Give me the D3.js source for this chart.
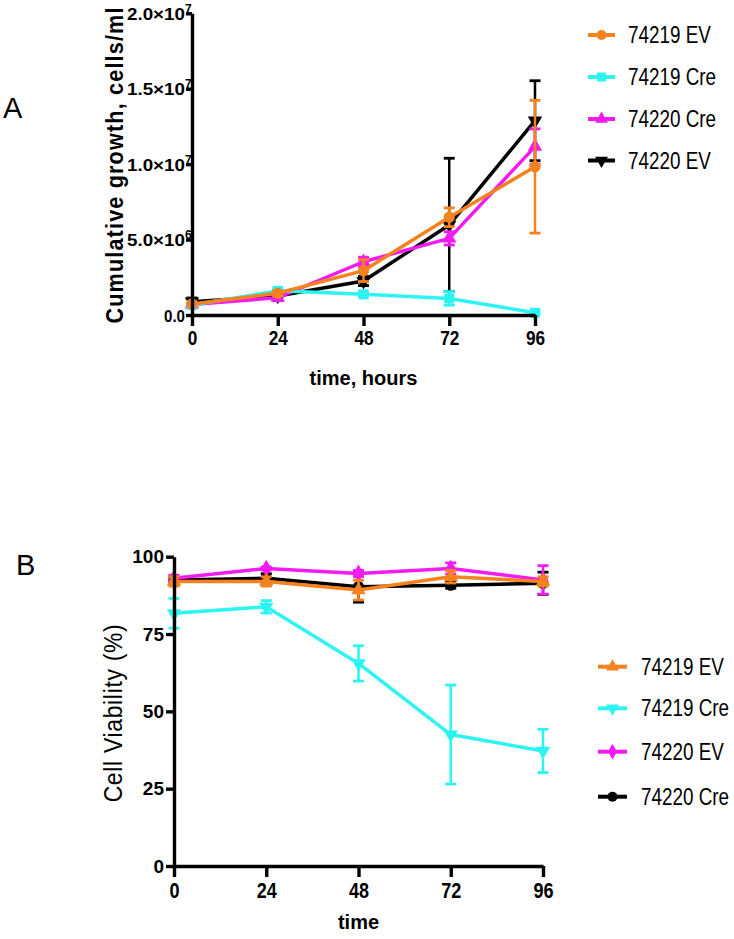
<!DOCTYPE html>
<html><head><meta charset="utf-8">
<script src="https://cdn.jsdelivr.net/npm/d3@7"></script>
<style>
html,body{margin:0;padding:0;background:#fff;}
svg{display:block;}
</style></head>
<body>
<svg id="chart" width="734" height="939"></svg>
<script>
// ---------- DATA ----------
const times = [0, 24, 48, 72, 96];
const xTickLabels = ["0", "24", "48", "72", "96"];

// Panel A: cumulative growth (cells/ml)
const namesA = ["74219 EV", "74219 Cre", "74220 Cre", "74220 EV"];
const growth_74219EV = [0.73e6, 1.44e6, 2.94e6, 6.48e6, 9.83e6];
const growth_74219EV_sd = [0.08e6, 0.15e6, 0.72e6, 0.62e6, 4.4e6];
const growth_74219Cre = [0.66e6, 1.6e6, 1.37e6, 1.1e6, 0.15e6];
const growth_74219Cre_sd = [0.08e6, 0.15e6, 0.15e6, 0.45e6, 0.1e6];
const growth_74220Cre = [0.7e6, 1.15e6, 3.53e6, 5.08e6, 11.16e6];
const growth_74220Cre_sd = [0.05e6, 0.2e6, 0.3e6, 0.44e6, 1.18e6];
const growth_74220EV = [0.88e6, 1.26e6, 2.25e6, 5.97e6, 12.88e6];
const growth_74220EV_sd = [0.25e6, 0.1e6, 0.3e6, 4.42e6, 2.65e6];
const yTicksA = [0, 5e6, 1e7, 1.5e7, 2e7];
const yTickBaseA = ["0.0", "5.0×10", "1.0×10", "1.5×10", "2.0×10"];
const yTickExpA = ["", "6", "7", "7", "7"];

// Panel B: cell viability (%)
const namesB = ["74219 EV", "74219 Cre", "74220 EV", "74220 Cre"];
const viab_74219EV = [92, 92, 89.2, 93.5, 92];
const viab_74219EV_sd = [1.5, 1.5, 3.2, 2, 1.5];
const viab_74219Cre = [81.7, 83.8, 65.5, 42.5, 37.2];
const viab_74219Cre_sd = [4.8, 2, 5.7, 16, 7];
const viab_74220EV = [93, 96.2, 94.6, 96.2, 92.5];
const viab_74220EV_sd = [1, 0.5, 1, 1.8, 4.6];
const viab_74220Cre = [92.5, 93, 90.3, 90.8, 91.4];
const viab_74220Cre_sd = [1, 1.5, 5, 1, 3.6];
const yTicksB = [0, 25, 50, 75, 100];

// ---------- STYLE ----------
const C_ORANGE = "#f5821f", C_CYAN = "#2ef3f3", C_MAGENTA = "#f21cf2", C_BLACK = "#000";
const svg = d3.select("#chart");
const FONT = "'Liberation Sans', Arial, sans-serif";

function mk(values, sd, name, color, symbol) {
  return { name, color, symbol, pts: times.map((t, i) => ({ t, v: values[i], sd: sd[i] })) };
}

function drawSeries(g, x, y, s, capW) {
  const sg = g.append("g");
  s.pts.forEach(p => {
    const y1 = y(p.v + p.sd), y0 = y(Math.max(0, p.v - p.sd));
    sg.append("line").attr("x1", x(p.t)).attr("x2", x(p.t)).attr("y1", y1).attr("y2", y0)
      .attr("stroke", s.color).attr("stroke-width", 2.5);
    [y1, y0].forEach(yy => sg.append("line").attr("x1", x(p.t) - capW / 2).attr("x2", x(p.t) + capW / 2)
      .attr("y1", yy).attr("y2", yy).attr("stroke", s.color).attr("stroke-width", 2.8));
  });
  sg.append("path").datum(s.pts)
    .attr("d", d3.line().x(p => x(p.t)).y(p => y(p.v)))
    .attr("fill", "none").attr("stroke", s.color).attr("stroke-width", 3.5).attr("stroke-linejoin", "round");
  sg.selectAll("path.m").data(s.pts).enter().append("path").attr("class", "m")
    .attr("transform", p => `translate(${x(p.t)},${y(p.v)})${s.symbol.rot || ""}`)
    .attr("d", d3.symbol().type(s.symbol.type).size(s.symbol.size))
    .attr("fill", s.color);
}

function styleAxis(g) {
  g.select(".domain").attr("stroke", "#000").attr("stroke-width", 3.4);
  g.selectAll(".tick line").attr("stroke", "#000").attr("stroke-width", 3.4);
}

function legend(items, x0, x1, ys, tx) {
  items.forEach((s, i) => {
    const g = svg.append("g");
    g.append("line").attr("x1", x0).attr("x2", x1).attr("y1", ys[i]).attr("y2", ys[i])
      .attr("stroke", s.color).attr("stroke-width", 4);
    g.append("path").attr("transform", `translate(${(x0 + x1) / 2},${ys[i]})${s.symbol.rot || ""}`)
      .attr("d", d3.symbol().type(s.symbol.type).size(s.symbol.size * 0.8)).attr("fill", s.color);
    g.append("text").attr("transform", `translate(${tx},${ys[i] + 8}) scale(0.82,1)`).text(s.name)
      .attr("font-family", FONT).attr("font-size", 23).attr("fill", "#000");
  });
}

const SYM_CIRCLE = { type: d3.symbolCircle, size: 100 };
const SYM_SQUARE = { type: d3.symbolSquare, size: 100 };
const SYM_TRI_UP = { type: d3.symbolTriangle, size: 90 };
const SYM_TRI_DOWN = { type: d3.symbolTriangle, size: 90, rot: " rotate(180)" };
const SYM_DIAMOND = { type: d3.symbolDiamond, size: 90 };

function styleXTicks(ax, size) {
  ax.selectAll(".tick text").attr("font-family", FONT).attr("font-weight", "bold")
    .attr("font-size", size).attr("fill", "#000").attr("transform", "scale(0.82,1)");
}

// ---------- PANEL A ----------
{
  const xA = d3.scaleLinear().domain([0, 96]).range([192, 535]);
  const yA = d3.scaleLinear().domain([0, 2e7]).range([315, 13.3]);
  const sA = [
    mk(growth_74219EV, growth_74219EV_sd, namesA[0], C_ORANGE, SYM_CIRCLE),
    mk(growth_74219Cre, growth_74219Cre_sd, namesA[1], C_CYAN, SYM_SQUARE),
    mk(growth_74220Cre, growth_74220Cre_sd, namesA[2], C_MAGENTA, SYM_TRI_UP),
    mk(growth_74220EV, growth_74220EV_sd, namesA[3], C_BLACK, SYM_TRI_DOWN)
  ];
  const g = svg.append("g");
  [3, 2, 1, 0].forEach(i => drawSeries(g, xA, yA, sA[i], 11));

  const ax = svg.append("g").attr("transform", "translate(0,315)")
    .call(d3.axisBottom(xA).tickValues(times).tickFormat((d, i) => xTickLabels[i]).tickSize(11).tickSizeOuter(0).tickPadding(4));
  styleAxis(ax);
  styleXTicks(ax, 21);

  const ay = svg.append("g").attr("transform", "translate(192,0)")
    .call(d3.axisLeft(yA).tickValues(yTicksA).tickFormat(() => "").tickSize(6).tickSizeOuter(0));
  styleAxis(ay);
  // y tick labels with superscript exponents
  ay.selectAll(".tick").each(function (d, i) {
    const t = d3.select(this);
    t.select("text").remove();
    const baseW = yTickExpA[i] ? 58 : 21;
    t.append("text").attr("x", -7 - baseW).attr("y", 6).attr("text-anchor", "start")
      .attr("font-family", FONT).attr("font-weight", "bold").attr("font-size", 17).attr("fill", "#000")
      .attr("textLength", baseW).attr("lengthAdjust", "spacingAndGlyphs")
      .text(yTickBaseA[i]);
    if (yTickExpA[i]) t.append("text").attr("x", -7).attr("y", -1).attr("text-anchor", "start")
      .attr("font-family", FONT).attr("font-weight", "bold").attr("font-size", 12).attr("fill", "#000")
      .text(yTickExpA[i]);
  });

  svg.append("text").attr("x", 363.5).attr("y", 385).attr("text-anchor", "middle")
    .attr("font-family", FONT).attr("font-weight", "bold").attr("font-size", 20).text("time, hours");
  svg.append("text").attr("transform", "translate(123,165) rotate(-90) scale(0.9,1)").attr("text-anchor", "middle")
    .attr("font-family", FONT).attr("font-weight", "bold").attr("font-size", 24).attr("letter-spacing", 1.3)
    .text("Cumulative growth, cells/ml");
  svg.append("text").attr("x", 3).attr("y", 118).attr("font-family", FONT).attr("font-size", 29).text("A");

  legend(sA, 588, 615, [35, 77, 119, 160.5], 628);
}

// ---------- PANEL B ----------
{
  const xB = d3.scaleLinear().domain([0, 96]).range([174, 543]);
  const yB = d3.scaleLinear().domain([0, 100]).range([866, 556.7]);
  const sB = [
    mk(viab_74219EV, viab_74219EV_sd, namesB[0], C_ORANGE, SYM_TRI_UP),
    mk(viab_74219Cre, viab_74219Cre_sd, namesB[1], C_CYAN, SYM_TRI_DOWN),
    mk(viab_74220EV, viab_74220EV_sd, namesB[2], C_MAGENTA, SYM_DIAMOND),
    mk(viab_74220Cre, viab_74220Cre_sd, namesB[3], C_BLACK, SYM_CIRCLE)
  ];
  const g = svg.append("g");
  [3, 1, 2, 0].forEach(i => drawSeries(g, xB, yB, sB[i], 11));

  const ax = svg.append("g").attr("transform", "translate(0,866)")
    .call(d3.axisBottom(xB).tickValues(times).tickFormat((d, i) => xTickLabels[i]).tickSize(11).tickSizeOuter(0).tickPadding(5));
  styleAxis(ax);
  styleXTicks(ax, 22);

  const ay = svg.append("g").attr("transform", "translate(174,0)")
    .call(d3.axisLeft(yB).tickValues(yTicksB).tickSize(8).tickSizeOuter(0).tickPadding(2));
  styleAxis(ay);
  ay.selectAll("text").attr("font-family", FONT).attr("font-weight", "bold").attr("font-size", 19).attr("fill", "#000");

  svg.append("text").attr("x", 358.5).attr("y", 929).attr("text-anchor", "middle")
    .attr("font-family", FONT).attr("font-weight", "bold").attr("font-size", 20).text("time");
  svg.append("text").attr("transform", "translate(122,713) rotate(-90) scale(0.88,1)").attr("text-anchor", "middle")
    .attr("font-family", FONT).attr("font-size", 26).attr("letter-spacing", 0.8)
    .text("Cell Viability (%)");
  svg.append("text").attr("x", 16).attr("y", 575).attr("font-family", FONT).attr("font-size", 29).text("B");

  legend(sB, 598, 627, [666.7, 708.3, 751.7, 796.7], 641);
}
</script>
</body></html>
